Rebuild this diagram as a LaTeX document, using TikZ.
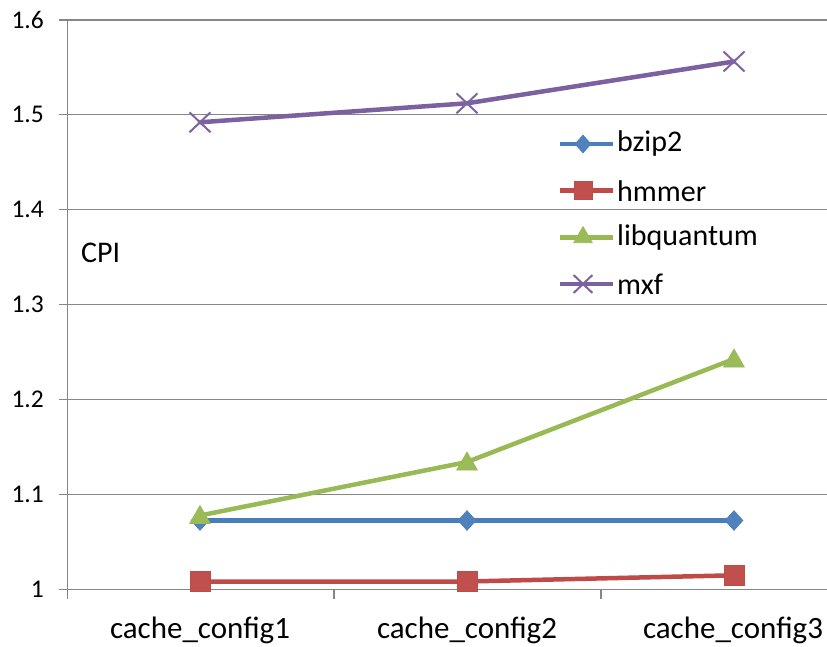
\documentclass[tikz,border=0pt]{standalone}
\usepackage{fontspec}
\setmainfont{Carlito}
\usetikzlibrary{shapes.geometric,shapes.misc,calc}

\definecolor{gridgray}{HTML}{868686}
\definecolor{bzcol}{HTML}{4A7EBB}
\definecolor{bzfill}{HTML}{4F81BD}
\definecolor{hmcol}{HTML}{BE4B48}
\definecolor{hmfill}{HTML}{C0504D}
\definecolor{lqcol}{HTML}{98B954}
\definecolor{lqfill}{HTML}{9BBB59}
\definecolor{mxcol}{HTML}{7D60A0}
\definecolor{mxfill}{HTML}{8064A2}

\tikzset{
  grid line/.style={draw=gridgray, line width=1.4pt},
  series/.style={line width=4.5pt, line cap=round, line join=round},
  bzmark/.style={diamond, fill=bzfill, draw=bzcol, line width=0.6pt, minimum width=18pt, minimum height=20pt, inner sep=0pt},
  hmmark/.style={rectangle, fill=hmfill, draw=hmcol, line width=0.6pt, minimum size=20pt, inner sep=0pt},
  lqmark/.style={regular polygon, regular polygon sides=3, fill=lqfill, draw=lqcol, line width=0.6pt, minimum size=24pt, inner sep=0pt},
  mxmark/.style={cross out, draw=mxfill, line width=2pt, minimum width=19pt, minimum height=18pt, inner sep=0pt},
  ticklabel/.style={anchor=east, font=\fontsize{25.5pt}{28pt}\selectfont, inner sep=0pt},
  catlabel/.style={anchor=center, font=\fontsize{31pt}{34pt}\selectfont, inner sep=0pt},
  legtext/.style={anchor=west, font=\fontsize{30pt}{33pt}\selectfont, inner sep=0pt},
}

\begin{document}
\begin{tikzpicture}[x=1pt, y=-1pt]
\useasboundingbox (0,0) rectangle (827,647);
\fill[white] (0,0) rectangle (827,647);

% horizontal gridlines and value labels
\foreach \v/\lab [count=\i from 0] in {1/1, 1.1/1.1, 1.2/1.2, 1.3/1.3, 1.4/1.4, 1.5/1.5, 1.6/1.6} {
  \pgfmathsetmacro{\yy}{589.3-\i*94.9}
  \coordinate (gl\i) at (59,\yy);
  \coordinate (gr\i) at (827,\yy);
  \draw[grid line] (gl\i) -- (gr\i);
  \node[ticklabel] (tl\i) at (44,\yy) {\lab};
}

% axes and category ticks
\coordinate (ytop) at (67.7,19.9);
\coordinate (ybot) at (67.7,599);
\draw[grid line] (ytop) -- (ybot);
\coordinate (t1a) at (334,589.3);
\coordinate (t1b) at (334,599);
\coordinate (t2a) at (601,589.3);
\coordinate (t2b) at (601,599);
\draw[grid line] (t1a) -- (t1b);
\draw[grid line] (t2a) -- (t2b);

% category labels
\node[catlabel] (c1) at (200,630) {cache\_config1};
\node[catlabel] (c2) at (467,630) {cache\_config2};
\node[catlabel] (c3) at (733,630) {cache\_config3};

% axis title
\node[anchor=west, font=\fontsize{30pt}{33pt}\selectfont, inner sep=0pt] (cpi) at (81,253) {CPI};

% data points
\coordinate (b1) at (200,520.5);
\coordinate (b2) at (467,520.5);
\coordinate (b3) at (734,520.5);
\coordinate (h1) at (200,581.5);
\coordinate (h2) at (467,581.5);
\coordinate (h3) at (734,575.3);
\coordinate (l1) at (200,515.5);
\coordinate (l2) at (467,462);
\coordinate (l3) at (734,359);
\coordinate (m1) at (200,122.3);
\coordinate (m2) at (467,103.3);
\coordinate (m3) at (734,61.5);

% bzip2
\draw[series, bzcol] (b1) -- (b2) -- (b3);
\foreach \p in {1,2,3} \node[bzmark] (bm\p) at (b\p) {};
% hmmer
\draw[series, hmcol] (h1) -- (h2) -- (h3);
\foreach \p in {1,2,3} \node[hmmark] (hm\p) at (h\p) {};
% libquantum
\draw[series, lqcol] (l1) -- (l2) -- (l3);
\foreach \p in {1,2,3} \node[lqmark] (lm\p) at ($(l\p)+(0,2)$) {};
% mxf
\draw[series, mxcol] (m1) -- (m2) -- (m3);
\foreach \p in {1,2,3} \node[mxmark] (mm\p) at (m\p) {};

% legend
\foreach \k/\ty/\lc/\mk/\name in {1/144/bzcol/bzmark/bzip2, 2/190.7/hmcol/hmmark/hmmer, 3/237.3/lqcol/lqmark/libquantum, 4/284/mxcol/mxmark/mxf} {
  \coordinate (la\k) at (560,\ty);
  \coordinate (lb\k) at (613,\ty);
  \draw[series, \lc, line cap=butt] (la\k) -- (lb\k);
  \node[\mk, scale=0.9] (lk\k) at (583,\ty) {};
  \node[legtext] (lt\k) at (617,\ty) {\name};
}
\end{tikzpicture}
\end{document}
